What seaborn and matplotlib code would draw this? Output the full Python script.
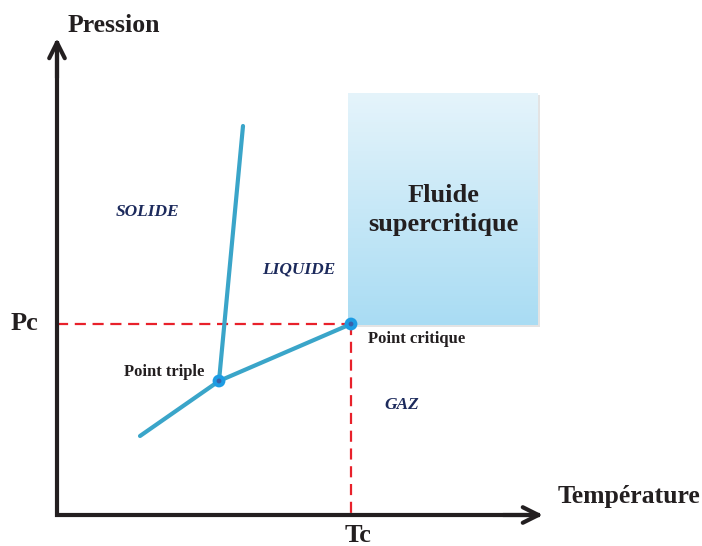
import numpy as np
import pandas as pd
import matplotlib
matplotlib.use("Agg")
import matplotlib.pyplot as plt
import seaborn as sns
from matplotlib.patches import Rectangle
from matplotlib.colors import LinearSegmentedColormap

# ---- data (diagram coordinates) ----
sublimation_T = [140, 219]
sublimation_P = [436, 381]
fusion_T = [219, 243]
fusion_P = [381, 126]
vaporisation_T = [219, 351]
vaporisation_P = [381, 324]
points_T = [219, 351]
points_P = [381, 324]
point_names = ["Point triple", "Point critique"]
Tc = 351
Pc = 324
origin_T = 57
origin_P = 515
axis_T_end = 543
axis_P_end = 38
box_T = [348, 538]
box_P = [93, 325]
phase_names = ["SOLIDE", "LIQUIDE", "GAZ"]
phase_T = [147.5, 299, 402]
phase_P = [212, 269, 405]

sns.set_theme(style="white")
plt.rcParams['font.family'] = ['Liberation Serif', 'DejaVu Serif']

fig = plt.figure(figsize=(7.02, 5.46), dpi=100)
ax = fig.add_axes([0, 0, 1, 1])

# supercritical box with gradient + shadow
ax.add_patch(Rectangle((box_T[0] + 2, box_P[0] + 2), box_T[1] - box_T[0], box_P[1] - box_P[0],
                       facecolor="#b0b0b0", edgecolor="none", alpha=0.35, zorder=1))
grad = np.linspace(0, 1, 256).reshape(-1, 1)
cmap = LinearSegmentedColormap.from_list("sc", ["#e5f4fb", "#a9dcf3"])
ax.imshow(grad, cmap=cmap, extent=[box_T[0], box_T[1], box_P[1], box_P[0]],
          aspect="auto", zorder=2, origin="upper")
ax.text((box_T[0] + box_T[1]) / 2, 195, "Fluide", ha="center", va="center",
        fontsize=19, fontweight="bold", color="#231f20", zorder=5)
ax.text((box_T[0] + box_T[1]) / 2, 225, "supercritique", ha="center", va="center",
        fontsize=19, fontweight="bold", color="#231f20", zorder=5)

# dashed critical lines
red = "#e8212b"
ax.plot([origin_T, Tc], [Pc, Pc], color=red, lw=1.6, ls=(0, (5, 3)), zorder=3)
ax.plot([Tc, Tc], [Pc, origin_P], color=red, lw=1.6, ls=(0, (5, 3)), zorder=3)

# phase boundary curves
line_c = "#3aa5c9"
for T, P in [(sublimation_T, sublimation_P), (fusion_T, fusion_P), (vaporisation_T, vaporisation_P)]:
    df = pd.DataFrame({"T": T, "P": P})
    sns.lineplot(data=df, x="T", y="P", ax=ax, color=line_c, lw=3, sort=False, zorder=4)

dfp = pd.DataFrame({"T": points_T, "P": points_P})
sns.scatterplot(data=dfp, x="T", y="P", ax=ax, s=85, color="#1d9ce3", edgecolor="none", zorder=6)
sns.scatterplot(data=dfp, x="T", y="P", ax=ax, s=12, color="#3a5fa8", edgecolor="none", zorder=7)
ax.set_xlim(0, 702)
ax.set_ylim(546, 0)
ax.axis("off")

# axes: corner drawn as one polyline, arrowheads on the ends
axis_c = "#231f20"
ax.plot([origin_T, origin_T, axis_T_end - 3], [axis_P_end + 3, origin_P, origin_P],
        color=axis_c, lw=3, solid_joinstyle="miter", solid_capstyle="butt", zorder=8)
ax.annotate("", xy=(axis_T_end, origin_P), xytext=(axis_T_end - 40, origin_P),
            arrowprops=dict(arrowstyle="->", lw=3, color=axis_c, mutation_scale=28,
                            shrinkA=0, shrinkB=0), zorder=8)
ax.annotate("", xy=(origin_T, axis_P_end), xytext=(origin_T, axis_P_end + 40),
            arrowprops=dict(arrowstyle="->", lw=3, color=axis_c, mutation_scale=28,
                            shrinkA=0, shrinkB=0), zorder=8)

dark = "#231f20"
ax.text(68, 26, "Pression", ha="left", va="center", fontsize=18.5, fontweight="bold", color=dark)
ax.text(700, 497, "Température", ha="right", va="center", fontsize=18.5, fontweight="bold", color=dark)
ax.text(24, 323, "Pc", ha="center", va="center", fontsize=19, fontweight="bold", color=dark)
ax.text(Tc + 7, 536, "Tc", ha="center", va="center", fontsize=19, fontweight="bold", color=dark)

navy = "#1c2a5c"
for name, t, p in zip(phase_names, phase_T, phase_P):
    ax.text(t, p, name, ha="center", va="center", fontsize=12.5, fontweight="bold",
            fontstyle="italic", color=navy)

ax.text(164.5, 372, point_names[0], ha="center", va="center", fontsize=12, fontweight="bold", color=dark)
ax.text(417, 339, point_names[1], ha="center", va="center", fontsize=12, fontweight="bold", color=dark)

fig.savefig("out.png", dpi=100)
